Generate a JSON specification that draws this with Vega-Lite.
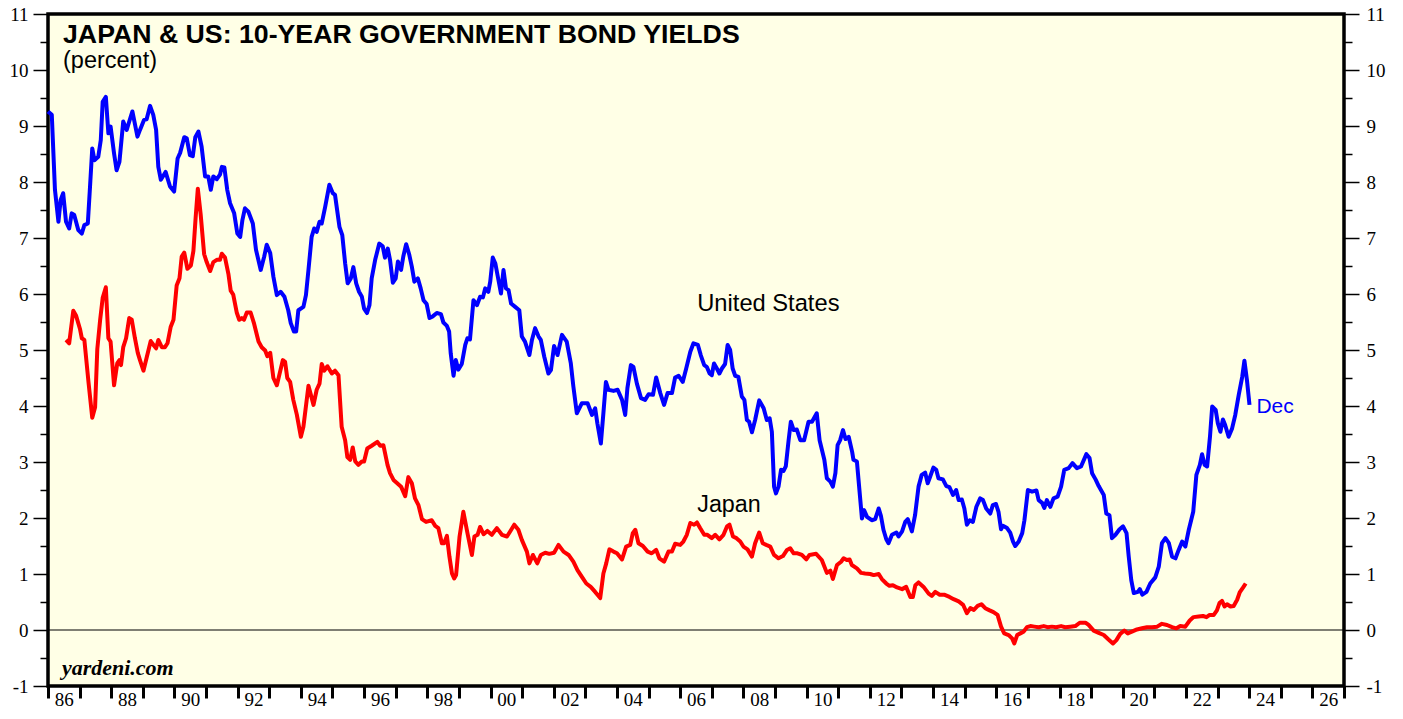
{
"$schema": "https://vega.github.io/schema/vega-lite/v6.json",
"width": 1296, "height": 672,
"autosize": {"type": "none"},
"padding": {"left": 48, "top": 14, "right": 59, "bottom": 33},
"background": "white",
"config": {
 "view": {"fill": "#FFFFE6", "stroke": "black", "strokeWidth": 3.5},
 "axis": {"grid": false, "domain": false, "tickColor": "black", "labelColor": "black", "labelFont": "Liberation Serif", "labelFontSize": 19, "title": null}
},
"datasets": {
"us": [
{"t":1986.00,"v":9.26},{"t":1986.12,"v":9.20},{"t":1986.22,"v":7.86},{"t":1986.33,"v":7.29},{"t":1986.40,"v":7.68},{"t":1986.48,"v":7.80},{"t":1986.57,"v":7.29},{"t":1986.67,"v":7.17},{"t":1986.75,"v":7.44},{"t":1986.83,"v":7.41},{"t":1986.96,"v":7.14},{"t":1987.07,"v":7.08},{"t":1987.15,"v":7.23},{"t":1987.26,"v":7.26},{"t":1987.33,"v":7.92},{"t":1987.40,"v":8.60},{"t":1987.47,"v":8.39},{"t":1987.59,"v":8.45},{"t":1987.67,"v":8.75},{"t":1987.73,"v":9.43},{"t":1987.83,"v":9.52},{"t":1987.91,"v":8.87},{"t":1987.98,"v":8.99},{"t":1988.09,"v":8.51},{"t":1988.17,"v":8.21},{"t":1988.26,"v":8.36},{"t":1988.38,"v":9.08},{"t":1988.49,"v":8.93},{"t":1988.57,"v":9.08},{"t":1988.67,"v":9.26},{"t":1988.83,"v":8.81},{"t":1988.91,"v":8.93},{"t":1989.04,"v":9.11},{"t":1989.12,"v":9.12},{"t":1989.23,"v":9.36},{"t":1989.33,"v":9.20},{"t":1989.42,"v":8.93},{"t":1989.49,"v":8.27},{"t":1989.57,"v":8.04},{"t":1989.72,"v":8.18},{"t":1989.86,"v":7.92},{"t":1989.99,"v":7.83},{"t":1990.10,"v":8.42},{"t":1990.18,"v":8.52},{"t":1990.31,"v":8.80},{"t":1990.39,"v":8.78},{"t":1990.49,"v":8.48},{"t":1990.58,"v":8.46},{"t":1990.66,"v":8.80},{"t":1990.76,"v":8.90},{"t":1990.86,"v":8.63},{"t":1990.97,"v":8.10},{"t":1991.07,"v":8.10},{"t":1991.15,"v":7.86},{"t":1991.23,"v":8.10},{"t":1991.34,"v":8.05},{"t":1991.44,"v":8.13},{"t":1991.50,"v":8.27},{"t":1991.58,"v":8.26},{"t":1991.67,"v":7.86},{"t":1991.76,"v":7.62},{"t":1991.89,"v":7.44},{"t":1991.99,"v":7.08},{"t":1992.08,"v":7.02},{"t":1992.15,"v":7.32},{"t":1992.23,"v":7.53},{"t":1992.34,"v":7.47},{"t":1992.48,"v":7.26},{"t":1992.58,"v":6.79},{"t":1992.73,"v":6.43},{"t":1992.84,"v":6.67},{"t":1992.92,"v":6.88},{"t":1993.03,"v":6.73},{"t":1993.13,"v":6.31},{"t":1993.24,"v":5.98},{"t":1993.36,"v":6.04},{"t":1993.48,"v":5.95},{"t":1993.60,"v":5.71},{"t":1993.68,"v":5.48},{"t":1993.78,"v":5.33},{"t":1993.85,"v":5.33},
{"t":1993.92,"v":5.71},{"t":1994.08,"v":5.77},{"t":1994.16,"v":5.98},{"t":1994.24,"v":6.43},{"t":1994.34,"v":7.02},{"t":1994.42,"v":7.17},{"t":1994.50,"v":7.11},{"t":1994.59,"v":7.29},{"t":1994.66,"v":7.26},{"t":1994.77,"v":7.56},{"t":1994.90,"v":7.95},{"t":1995.01,"v":7.80},{"t":1995.08,"v":7.77},{"t":1995.22,"v":7.20},{"t":1995.31,"v":7.05},{"t":1995.40,"v":6.55},{"t":1995.48,"v":6.19},{"t":1995.58,"v":6.28},{"t":1995.66,"v":6.48},{"t":1995.75,"v":6.19},{"t":1995.84,"v":6.04},{"t":1995.93,"v":5.95},{"t":1996.00,"v":5.74},{"t":1996.09,"v":5.66},{"t":1996.17,"v":5.80},{"t":1996.24,"v":6.28},{"t":1996.35,"v":6.61},{"t":1996.48,"v":6.90},{"t":1996.59,"v":6.85},{"t":1996.66,"v":6.65},{"t":1996.75,"v":6.81},{"t":1996.82,"v":6.61},{"t":1996.91,"v":6.20},{"t":1997.00,"v":6.28},{"t":1997.07,"v":6.58},{"t":1997.17,"v":6.43},{"t":1997.24,"v":6.67},{"t":1997.33,"v":6.89},{"t":1997.43,"v":6.70},{"t":1997.51,"v":6.49},{"t":1997.59,"v":6.22},{"t":1997.70,"v":6.28},{"t":1997.79,"v":6.10},{"t":1997.88,"v":5.89},{"t":1997.98,"v":5.82},{"t":1998.07,"v":5.57},{"t":1998.17,"v":5.60},{"t":1998.30,"v":5.66},{"t":1998.43,"v":5.64},{"t":1998.51,"v":5.49},{"t":1998.62,"v":5.43},{"t":1998.69,"v":5.33},{"t":1998.74,"v":4.94},{"t":1998.83,"v":4.54},{"t":1998.90,"v":4.82},{"t":1998.98,"v":4.65},{"t":1999.09,"v":4.75},{"t":1999.20,"v":5.09},{"t":1999.27,"v":5.21},{"t":1999.35,"v":5.19},{"t":1999.46,"v":5.89},{"t":1999.57,"v":5.80},{"t":1999.67,"v":5.95},{"t":1999.76,"v":5.94},{"t":1999.83,"v":6.10},{"t":1999.93,"v":6.04},{"t":1999.99,"v":6.22},{"t":2000.07,"v":6.65},{"t":2000.15,"v":6.55},{"t":2000.25,"v":6.25},{"t":2000.33,"v":6.01},{"t":2000.41,"v":6.43},{"t":2000.49,"v":6.10},{"t":2000.57,"v":6.07},{"t":2000.65,"v":5.83},{"t":2000.78,"v":5.77},{"t":2000.91,"v":5.71},{"t":2000.99,"v":5.24},{"t":2001.09,"v":5.15},{"t":2001.23,"v":4.91},{"t":2001.31,"v":5.18},{"t":2001.41,"v":5.39},{"t":2001.52,"v":5.24},{"t":2001.59,"v":5.18},{"t":2001.70,"v":4.88},{"t":2001.83,"v":4.58},{"t":2001.91,"v":4.64},
{"t":2002.01,"v":5.07},{"t":2002.12,"v":4.91},{"t":2002.26,"v":5.27},{"t":2002.41,"v":5.15},{"t":2002.54,"v":4.76},{"t":2002.62,"v":4.35},{"t":2002.73,"v":3.87},{"t":2002.89,"v":4.05},{"t":2003.07,"v":4.05},{"t":2003.21,"v":3.84},{"t":2003.31,"v":3.96},{"t":2003.38,"v":3.69},{"t":2003.49,"v":3.33},{"t":2003.57,"v":3.87},{"t":2003.65,"v":4.43},{"t":2003.73,"v":4.29},{"t":2003.89,"v":4.27},{"t":2004.02,"v":4.29},{"t":2004.16,"v":4.11},{"t":2004.26,"v":3.84},{"t":2004.33,"v":4.32},{"t":2004.44,"v":4.73},{"t":2004.52,"v":4.70},{"t":2004.63,"v":4.40},{"t":2004.76,"v":4.14},{"t":2004.89,"v":4.11},{"t":2005.00,"v":4.21},{"t":2005.14,"v":4.20},{"t":2005.24,"v":4.51},{"t":2005.37,"v":4.23},{"t":2005.49,"v":4.02},{"t":2005.60,"v":4.23},{"t":2005.74,"v":4.23},{"t":2005.84,"v":4.51},{"t":2005.95,"v":4.54},{"t":2006.08,"v":4.43},{"t":2006.19,"v":4.67},{"t":2006.32,"v":4.97},{"t":2006.42,"v":5.12},{"t":2006.56,"v":5.09},{"t":2006.65,"v":4.91},{"t":2006.76,"v":4.73},{"t":2006.84,"v":4.70},{"t":2006.93,"v":4.58},{"t":2007.00,"v":4.55},{"t":2007.07,"v":4.76},{"t":2007.16,"v":4.67},{"t":2007.24,"v":4.58},{"t":2007.32,"v":4.67},{"t":2007.42,"v":4.75},{"t":2007.50,"v":5.09},{"t":2007.58,"v":5.00},{"t":2007.66,"v":4.67},{"t":2007.74,"v":4.54},{"t":2007.84,"v":4.52},{"t":2007.95,"v":4.17},{"t":2008.03,"v":4.11},{"t":2008.11,"v":3.75},{"t":2008.18,"v":3.72},{"t":2008.27,"v":3.53},{"t":2008.37,"v":3.75},{"t":2008.50,"v":4.10},{"t":2008.64,"v":3.96},{"t":2008.74,"v":3.75},{"t":2008.83,"v":3.78},{"t":2008.90,"v":3.54},{"t":2008.97,"v":2.56},{"t":2009.03,"v":2.44},{"t":2009.11,"v":2.56},{"t":2009.19,"v":2.86},{"t":2009.27,"v":2.84},{"t":2009.34,"v":2.92},{"t":2009.43,"v":3.39},{"t":2009.50,"v":3.72},{"t":2009.59,"v":3.57},{"t":2009.69,"v":3.58},{"t":2009.80,"v":3.39},{"t":2009.92,"v":3.39},{"t":2010.06,"v":3.72},{"t":2010.17,"v":3.72},
{"t":2010.32,"v":3.87},{"t":2010.41,"v":3.39},{"t":2010.56,"v":3.04},{"t":2010.64,"v":2.71},{"t":2010.75,"v":2.65},{"t":2010.83,"v":2.56},{"t":2010.91,"v":2.80},{"t":2010.98,"v":3.30},{"t":2011.06,"v":3.39},{"t":2011.15,"v":3.57},{"t":2011.23,"v":3.41},{"t":2011.33,"v":3.45},{"t":2011.44,"v":3.18},{"t":2011.48,"v":3.04},{"t":2011.59,"v":3.01},{"t":2011.67,"v":2.50},{"t":2011.75,"v":1.99},{"t":2011.82,"v":2.14},{"t":2011.91,"v":2.02},{"t":2012.06,"v":1.96},{"t":2012.17,"v":1.98},{"t":2012.28,"v":2.17},{"t":2012.35,"v":2.04},{"t":2012.43,"v":1.79},{"t":2012.52,"v":1.62},{"t":2012.59,"v":1.55},{"t":2012.70,"v":1.70},{"t":2012.84,"v":1.74},{"t":2012.91,"v":1.67},{"t":2013.02,"v":1.76},{"t":2013.12,"v":1.93},{"t":2013.20,"v":1.98},{"t":2013.33,"v":1.76},{"t":2013.43,"v":2.05},{"t":2013.54,"v":2.56},{"t":2013.64,"v":2.77},{"t":2013.75,"v":2.81},{"t":2013.83,"v":2.62},{"t":2013.91,"v":2.74},{"t":2014.01,"v":2.90},{"t":2014.10,"v":2.86},{"t":2014.17,"v":2.71},{"t":2014.31,"v":2.69},{"t":2014.42,"v":2.57},{"t":2014.52,"v":2.55},{"t":2014.63,"v":2.41},{"t":2014.73,"v":2.50},{"t":2014.81,"v":2.32},{"t":2014.91,"v":2.33},{"t":2014.99,"v":2.17},{"t":2015.07,"v":1.88},{"t":2015.16,"v":1.96},{"t":2015.26,"v":1.93},{"t":2015.37,"v":2.20},{"t":2015.49,"v":2.35},{"t":2015.58,"v":2.32},{"t":2015.68,"v":2.17},{"t":2015.81,"v":2.08},{"t":2015.89,"v":2.23},{"t":2015.99,"v":2.25},{"t":2016.07,"v":2.11},{"t":2016.15,"v":1.80},{"t":2016.21,"v":1.86},{"t":2016.34,"v":1.82},{"t":2016.44,"v":1.74},{"t":2016.53,"v":1.58},{"t":2016.60,"v":1.50},{"t":2016.71,"v":1.58},{"t":2016.82,"v":1.73},{"t":2016.89,"v":1.96},{"t":2017.00,"v":2.50},{"t":2017.13,"v":2.47},{"t":2017.27,"v":2.49},{"t":2017.34,"v":2.32},{"t":2017.45,"v":2.27},{"t":2017.52,"v":2.18},{"t":2017.60,"v":2.32},{"t":2017.71,"v":2.20},{"t":2017.81,"v":2.35},{"t":2017.94,"v":2.38},{"t":2018.05,"v":2.56},
{"t":2018.15,"v":2.86},{"t":2018.29,"v":2.89},{"t":2018.41,"v":2.98},{"t":2018.55,"v":2.89},{"t":2018.68,"v":2.92},{"t":2018.85,"v":3.14},{"t":2018.95,"v":3.07},{"t":2019.03,"v":2.80},{"t":2019.14,"v":2.69},{"t":2019.24,"v":2.57},{"t":2019.40,"v":2.41},{"t":2019.48,"v":2.08},{"t":2019.58,"v":2.05},{"t":2019.66,"v":1.64},{"t":2019.77,"v":1.70},{"t":2019.90,"v":1.80},{"t":2020.01,"v":1.85},{"t":2020.12,"v":1.73},{"t":2020.19,"v":1.31},{"t":2020.27,"v":0.89},{"t":2020.35,"v":0.66},{"t":2020.48,"v":0.68},{"t":2020.54,"v":0.73},{"t":2020.62,"v":0.63},{"t":2020.75,"v":0.68},{"t":2020.87,"v":0.83},{"t":2021.03,"v":0.94},{"t":2021.14,"v":1.13},{"t":2021.24,"v":1.55},{"t":2021.35,"v":1.64},{"t":2021.46,"v":1.55},{"t":2021.56,"v":1.31},{"t":2021.67,"v":1.28},{"t":2021.77,"v":1.43},{"t":2021.88,"v":1.58},{"t":2021.98,"v":1.49},{"t":2022.09,"v":1.79},{"t":2022.23,"v":2.11},{"t":2022.33,"v":2.77},{"t":2022.44,"v":2.95},{"t":2022.51,"v":3.14},{"t":2022.59,"v":2.95},{"t":2022.67,"v":2.92},{"t":2022.76,"v":3.45},{"t":2022.83,"v":3.99},{"t":2022.94,"v":3.93},{"t":2023.01,"v":3.69},{"t":2023.09,"v":3.54},{"t":2023.17,"v":3.76},{"t":2023.24,"v":3.66},{"t":2023.35,"v":3.45},{"t":2023.46,"v":3.60},{"t":2023.56,"v":3.84},{"t":2023.67,"v":4.20},{"t":2023.78,"v":4.52},{"t":2023.85,"v":4.81},{"t":2023.93,"v":4.46},{"t":2024.01,"v":4.02}
],
"jp": [
{"t":1986.57,"v":5.18},{"t":1986.67,"v":5.12},{"t":1986.80,"v":5.70},{"t":1986.89,"v":5.61},{"t":1987.01,"v":5.38},{"t":1987.07,"v":5.21},{"t":1987.15,"v":5.18},{"t":1987.28,"v":4.43},{"t":1987.40,"v":3.79},{"t":1987.49,"v":3.98},{"t":1987.56,"v":5.02},{"t":1987.65,"v":5.54},{"t":1987.73,"v":5.93},{"t":1987.83,"v":6.12},{"t":1987.91,"v":5.21},{"t":1987.98,"v":5.15},{"t":1988.09,"v":4.37},{"t":1988.19,"v":4.76},{"t":1988.26,"v":4.82},{"t":1988.31,"v":4.73},{"t":1988.38,"v":5.05},{"t":1988.47,"v":5.21},{"t":1988.57,"v":5.57},{"t":1988.65,"v":5.54},{"t":1988.75,"v":5.21},{"t":1988.84,"v":4.95},{"t":1988.91,"v":4.82},{"t":1989.02,"v":4.63},{"t":1989.12,"v":4.86},{"t":1989.25,"v":5.16},{"t":1989.35,"v":5.08},{"t":1989.42,"v":5.03},{"t":1989.49,"v":5.18},{"t":1989.60,"v":5.05},{"t":1989.70,"v":5.05},{"t":1989.78,"v":5.12},{"t":1989.88,"v":5.41},{"t":1989.97,"v":5.54},{"t":1990.07,"v":6.15},{"t":1990.16,"v":6.28},{"t":1990.23,"v":6.67},{"t":1990.31,"v":6.74},{"t":1990.41,"v":6.45},{"t":1990.52,"v":6.51},{"t":1990.60,"v":6.77},{"t":1990.67,"v":7.36},{"t":1990.74,"v":7.88},{"t":1990.83,"v":7.42},{"t":1990.94,"v":6.71},{"t":1991.02,"v":6.57},{"t":1991.13,"v":6.41},{"t":1991.23,"v":6.57},{"t":1991.34,"v":6.61},{"t":1991.44,"v":6.61},{"t":1991.50,"v":6.72},{"t":1991.60,"v":6.65},{"t":1991.71,"v":6.35},{"t":1991.78,"v":6.06},{"t":1991.86,"v":5.99},{"t":1991.97,"v":5.67},{"t":1992.05,"v":5.54},{"t":1992.13,"v":5.57},{"t":1992.20,"v":5.54},{"t":1992.29,"v":5.67},{"t":1992.41,"v":5.67},{"t":1992.52,"v":5.47},{"t":1992.66,"v":5.15},{"t":1992.76,"v":5.05},{"t":1992.87,"v":4.99},{"t":1992.94,"v":4.89},{"t":1993.03,"v":4.95},{"t":1993.13,"v":4.50},{"t":1993.24,"v":4.37},{"t":1993.32,"v":4.56},{"t":1993.43,"v":4.82},{"t":1993.50,"v":4.79},{"t":1993.57,"v":4.50},{"t":1993.66,"v":4.43},{"t":1993.76,"v":4.11},{"t":1993.87,"v":3.85},
{"t":1994.00,"v":3.45},{"t":1994.08,"v":3.63},{"t":1994.24,"v":4.36},{"t":1994.40,"v":4.02},{"t":1994.50,"v":4.29},{"t":1994.59,"v":4.40},{"t":1994.66,"v":4.75},{"t":1994.74,"v":4.63},{"t":1994.84,"v":4.71},{"t":1994.98,"v":4.58},{"t":1995.08,"v":4.63},{"t":1995.19,"v":4.55},{"t":1995.29,"v":3.63},{"t":1995.40,"v":3.39},{"t":1995.47,"v":3.09},{"t":1995.56,"v":3.04},{"t":1995.64,"v":3.26},{"t":1995.72,"v":3.01},{"t":1995.82,"v":2.95},{"t":1995.93,"v":3.01},{"t":1996.00,"v":3.01},{"t":1996.10,"v":3.24},{"t":1996.24,"v":3.29},{"t":1996.42,"v":3.36},{"t":1996.51,"v":3.29},{"t":1996.61,"v":3.30},{"t":1996.74,"v":2.95},{"t":1996.82,"v":2.80},{"t":1996.93,"v":2.68},{"t":1997.03,"v":2.63},{"t":1997.17,"v":2.56},{"t":1997.30,"v":2.39},{"t":1997.40,"v":2.73},{"t":1997.51,"v":2.62},{"t":1997.61,"v":2.35},{"t":1997.72,"v":2.23},{"t":1997.83,"v":1.98},{"t":1997.96,"v":1.93},{"t":1998.14,"v":1.96},{"t":1998.25,"v":1.86},{"t":1998.35,"v":1.82},{"t":1998.46,"v":1.55},{"t":1998.53,"v":1.55},{"t":1998.62,"v":1.68},{"t":1998.70,"v":1.31},{"t":1998.78,"v":1.01},{"t":1998.85,"v":0.92},{"t":1998.91,"v":0.98},{"t":1999.02,"v":1.67},{"t":1999.14,"v":2.11},{"t":1999.27,"v":1.73},{"t":1999.41,"v":1.34},{"t":1999.49,"v":1.67},{"t":1999.59,"v":1.70},{"t":1999.67,"v":1.84},{"t":1999.78,"v":1.71},{"t":1999.90,"v":1.77},{"t":2000.04,"v":1.70},{"t":2000.20,"v":1.82},{"t":2000.36,"v":1.70},{"t":2000.52,"v":1.67},{"t":2000.62,"v":1.76},{"t":2000.75,"v":1.88},{"t":2000.88,"v":1.79},{"t":2000.99,"v":1.61},{"t":2001.15,"v":1.40},{"t":2001.23,"v":1.19},{"t":2001.34,"v":1.34},{"t":2001.48,"v":1.19},{"t":2001.59,"v":1.34},{"t":2001.73,"v":1.38},{"t":2001.86,"v":1.36},{"t":2002.01,"v":1.38},
{"t":2002.15,"v":1.52},{"t":2002.31,"v":1.40},{"t":2002.47,"v":1.34},{"t":2002.62,"v":1.22},{"t":2002.75,"v":1.07},{"t":2002.89,"v":0.95},{"t":2003.03,"v":0.83},{"t":2003.17,"v":0.77},{"t":2003.31,"v":0.68},{"t":2003.47,"v":0.57},{"t":2003.57,"v":1.01},{"t":2003.66,"v":1.19},{"t":2003.76,"v":1.44},{"t":2003.89,"v":1.40},{"t":2004.00,"v":1.37},{"t":2004.16,"v":1.26},{"t":2004.29,"v":1.49},{"t":2004.42,"v":1.52},{"t":2004.50,"v":1.73},{"t":2004.58,"v":1.79},{"t":2004.68,"v":1.55},{"t":2004.82,"v":1.50},{"t":2004.97,"v":1.40},{"t":2005.10,"v":1.37},{"t":2005.24,"v":1.43},{"t":2005.34,"v":1.28},{"t":2005.49,"v":1.22},{"t":2005.63,"v":1.40},{"t":2005.74,"v":1.40},{"t":2005.84,"v":1.54},{"t":2006.00,"v":1.52},{"t":2006.10,"v":1.58},{"t":2006.21,"v":1.70},{"t":2006.32,"v":1.91},{"t":2006.44,"v":1.88},{"t":2006.53,"v":1.92},{"t":2006.63,"v":1.82},{"t":2006.76,"v":1.70},{"t":2006.86,"v":1.70},{"t":2007.00,"v":1.64},{"t":2007.11,"v":1.70},{"t":2007.24,"v":1.62},{"t":2007.37,"v":1.70},{"t":2007.48,"v":1.85},{"t":2007.56,"v":1.88},{"t":2007.67,"v":1.67},{"t":2007.78,"v":1.64},{"t":2007.90,"v":1.58},{"t":2008.00,"v":1.49},{"t":2008.13,"v":1.44},{"t":2008.27,"v":1.31},{"t":2008.37,"v":1.55},{"t":2008.50,"v":1.74},{"t":2008.61,"v":1.55},{"t":2008.72,"v":1.52},{"t":2008.85,"v":1.49},{"t":2008.97,"v":1.34},{"t":2009.11,"v":1.28},{"t":2009.25,"v":1.32},{"t":2009.38,"v":1.43},{"t":2009.48,"v":1.46},{"t":2009.59,"v":1.37},{"t":2009.71,"v":1.37},{"t":2009.85,"v":1.34},{"t":2009.99,"v":1.26},{"t":2010.09,"v":1.34},
{"t":2010.30,"v":1.36},{"t":2010.48,"v":1.25},{"t":2010.64,"v":1.02},{"t":2010.75,"v":1.06},{"t":2010.83,"v":0.91},{"t":2010.96,"v":1.16},{"t":2011.09,"v":1.22},{"t":2011.17,"v":1.28},{"t":2011.27,"v":1.25},{"t":2011.36,"v":1.26},{"t":2011.43,"v":1.16},{"t":2011.59,"v":1.10},{"t":2011.72,"v":1.02},{"t":2011.85,"v":1.01},{"t":2012.01,"v":1.00},{"t":2012.12,"v":0.98},{"t":2012.28,"v":1.00},{"t":2012.38,"v":0.91},{"t":2012.52,"v":0.83},{"t":2012.62,"v":0.79},{"t":2012.73,"v":0.80},{"t":2012.86,"v":0.76},{"t":2013.02,"v":0.73},{"t":2013.15,"v":0.77},{"t":2013.28,"v":0.59},{"t":2013.36,"v":0.59},{"t":2013.44,"v":0.80},{"t":2013.54,"v":0.85},{"t":2013.70,"v":0.77},{"t":2013.86,"v":0.65},{"t":2013.96,"v":0.61},{"t":2014.07,"v":0.68},{"t":2014.21,"v":0.63},{"t":2014.35,"v":0.63},{"t":2014.52,"v":0.59},{"t":2014.65,"v":0.55},{"t":2014.81,"v":0.51},{"t":2014.95,"v":0.45},{"t":2015.07,"v":0.30},{"t":2015.18,"v":0.39},{"t":2015.29,"v":0.36},{"t":2015.41,"v":0.43},{"t":2015.53,"v":0.46},{"t":2015.65,"v":0.39},{"t":2015.79,"v":0.35},{"t":2015.91,"v":0.32},{"t":2016.04,"v":0.27},{"t":2016.15,"v":0.06},{"t":2016.25,"v":-0.06},{"t":2016.39,"v":-0.09},{"t":2016.50,"v":-0.15},{"t":2016.57,"v":-0.24},{"t":2016.66,"v":-0.09},{"t":2016.76,"v":-0.06},{"t":2016.86,"v":-0.03},{"t":2016.97,"v":0.05},{"t":2017.08,"v":0.07},{"t":2017.20,"v":0.06},{"t":2017.34,"v":0.05},{"t":2017.50,"v":0.07},{"t":2017.62,"v":0.05},{"t":2017.76,"v":0.06},{"t":2017.89,"v":0.05},{"t":2018.05,"v":0.07},{"t":2018.18,"v":0.05},{"t":2018.34,"v":0.06},{"t":2018.50,"v":0.07},{"t":2018.64,"v":0.13},
{"t":2018.82,"v":0.13},{"t":2018.92,"v":0.09},{"t":2019.08,"v":-0.01},{"t":2019.24,"v":-0.05},{"t":2019.40,"v":-0.09},{"t":2019.55,"v":-0.17},{"t":2019.69,"v":-0.24},{"t":2019.80,"v":-0.18},{"t":2019.92,"v":-0.07},{"t":2020.05,"v":-0.01},{"t":2020.16,"v":-0.06},{"t":2020.29,"v":-0.03},{"t":2020.45,"v":0.01},{"t":2020.61,"v":0.03},{"t":2020.77,"v":0.05},{"t":2020.93,"v":0.05},{"t":2021.09,"v":0.06},{"t":2021.24,"v":0.11},{"t":2021.40,"v":0.09},{"t":2021.56,"v":0.05},{"t":2021.70,"v":0.03},{"t":2021.82,"v":0.07},{"t":2021.98,"v":0.06},{"t":2022.12,"v":0.17},{"t":2022.24,"v":0.23},{"t":2022.40,"v":0.24},{"t":2022.54,"v":0.25},{"t":2022.65,"v":0.23},{"t":2022.75,"v":0.27},{"t":2022.88,"v":0.27},{"t":2022.98,"v":0.35},{"t":2023.06,"v":0.48},{"t":2023.14,"v":0.52},{"t":2023.22,"v":0.42},{"t":2023.30,"v":0.46},{"t":2023.41,"v":0.42},{"t":2023.51,"v":0.43},{"t":2023.62,"v":0.54},{"t":2023.70,"v":0.67},{"t":2023.81,"v":0.76},{"t":2023.89,"v":0.83}
]
},
"resolve": {"axis": {"x": "independent", "y": "independent"}},
"layer": [
 {"data": {"values": [{}]}, "mark": {"type": "rule", "color": "black", "strokeWidth": 1.2},
  "encoding": {"y": {"datum": 0, "type": "quantitative", "scale": {"domain": [-1, 11], "nice": false, "zero": false},
   "axis": {"orient": "left", "values": [-0.5,0.5,1.5,2.5,3.5,4.5,5.5,6.5,7.5,8.5,9.5,10.5], "labels": false, "tickSize": 8, "tickWidth": 1.5}}}},
 {"data": {"name": "us"}, "mark": {"type": "line", "color": "#0000FF", "strokeWidth": 4, "strokeJoin": "round"},
  "encoding": {
   "x": {"field": "t", "type": "quantitative", "scale": {"domain": [1986, 2027], "nice": false, "zero": false},
    "axis": {"orient": "bottom", "values": [1986,1987,1988,1989,1990,1991,1992,1993,1994,1995,1996,1997,1998,1999,2000,2001,2002,2003,2004,2005,2006,2007,2008,2009,2010,2011,2012,2013,2014,2015,2016,2017,2018,2019,2020,2021,2022,2023,2024,2025,2026,2027], "labels": false, "tickSize": 12, "tickWidth": 3}},
   "y": {"field": "v", "type": "quantitative", "scale": {"domain": [-1, 11], "nice": false, "zero": false},
    "axis": {"orient": "left", "values": [-1,0,1,2,3,4,5,6,7,8,9,10,11], "tickSize": 15, "tickWidth": 1.5, "labelPadding": 5, "labelExpr": "'' + datum.value"}}}},
 {"data": {"name": "jp"}, "mark": {"type": "line", "color": "#FF0000", "strokeWidth": 4, "strokeJoin": "round"},
  "encoding": {
   "x": {"field": "t", "type": "quantitative",
    "axis": {"orient": "bottom", "values": [1986.5,1988.5,1990.5,1992.5,1994.5,1996.5,1998.5,2000.5,2002.5,2004.5,2006.5,2008.5,2010.5,2012.5,2014.5,2016.5,2018.5,2020.5,2022.5,2024.5,2026.5], "tickSize": 0, "labelPadding": 4, "labelOverlap": false, "labelFlush": false, "labelExpr": "slice('0' + (floor(datum.value) % 100), -2)"}},
   "y": {"field": "v", "type": "quantitative",
    "axis": {"orient": "right", "values": [-1,0,1,2,3,4,5,6,7,8,9,10,11], "tickSize": 15, "tickWidth": 1.5, "labelPadding": 7, "labelExpr": "'' + datum.value"}}}},
 {"data": {"values": [{"label": "JAPAN & US: 10-YEAR GOVERNMENT BOND YIELDS"}]},
  "mark": {"type": "text", "font": "Liberation Sans", "fontWeight": "bold", "fontSize": 26.7, "align": "left", "baseline": "alphabetic", "color": "black"},
  "encoding": {"x": {"datum": 1986.475, "type": "quantitative", "axis": null}, "y": {"datum": 10.48, "type": "quantitative",
   "axis": {"orient": "right", "values": [-0.5,0.5,1.5,2.5,3.5,4.5,5.5,6.5,7.5,8.5,9.5,10.5], "labels": false, "tickSize": 8, "tickWidth": 1.5}}, "text": {"field": "label"}}},
 {"data": {"values": [{"label": "(percent)"}]},
  "mark": {"type": "text", "font": "Liberation Sans", "fontSize": 23.5, "align": "left", "baseline": "alphabetic", "color": "black"},
  "encoding": {"x": {"datum": 1986.475, "type": "quantitative", "axis": null}, "y": {"datum": 10.04, "type": "quantitative", "axis": null}, "text": {"field": "label"}}},
 {"data": {"values": [{"label": "United States"}]},
  "mark": {"type": "text", "font": "Liberation Sans", "fontSize": 23.7, "align": "left", "baseline": "alphabetic", "color": "black"},
  "encoding": {"x": {"datum": 2006.54, "type": "quantitative", "axis": null}, "y": {"datum": 5.69, "type": "quantitative", "axis": null}, "text": {"field": "label"}}},
 {"data": {"values": [{"label": "Japan"}]},
  "mark": {"type": "text", "font": "Liberation Sans", "fontSize": 23.3, "align": "left", "baseline": "alphabetic", "color": "black"},
  "encoding": {"x": {"datum": 2006.54, "type": "quantitative", "axis": null}, "y": {"datum": 2.11, "type": "quantitative", "axis": null}, "text": {"field": "label"}}},
 {"data": {"values": [{"label": "Dec"}]},
  "mark": {"type": "text", "font": "Liberation Sans", "fontSize": 21, "align": "left", "baseline": "alphabetic", "color": "#0000FF"},
  "encoding": {"x": {"datum": 2024.23, "type": "quantitative", "axis": null}, "y": {"datum": 3.875, "type": "quantitative", "axis": null}, "text": {"field": "label"}}},
 {"data": {"values": [{"label": "yardeni.com"}]},
  "mark": {"type": "text", "font": "Liberation Serif", "fontWeight": "bold", "fontStyle": "italic", "fontSize": 22, "align": "left", "baseline": "alphabetic", "color": "black"},
  "encoding": {"x": {"datum": 1986.44, "type": "quantitative", "axis": null}, "y": {"datum": -0.80, "type": "quantitative", "axis": null}, "text": {"field": "label"}}}
]
}
